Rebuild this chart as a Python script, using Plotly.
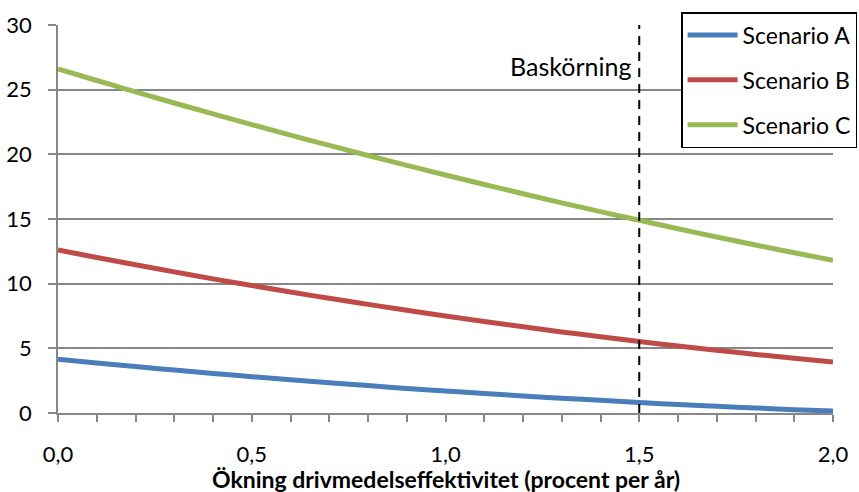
import plotly.graph_objects as go

x_vals = [0.0, 0.1, 0.2, 0.3, 0.4, 0.5, 0.6, 0.7, 0.8, 0.9, 1.0,
          1.1, 1.2, 1.3, 1.4, 1.5, 1.6, 1.7, 1.8, 1.9, 2.0]
scenario_a = [4.15, 3.87, 3.59, 3.32, 3.06, 2.81, 2.57, 2.34, 2.12, 1.90, 1.70,
              1.51, 1.32, 1.14, 0.98, 0.81, 0.66, 0.52, 0.39, 0.26, 0.15]
scenario_b = [12.6, 12.02, 11.46, 10.91, 10.37, 9.86, 9.35, 8.87, 8.40, 7.94, 7.50,
              7.07, 6.67, 6.27, 5.90, 5.53, 5.18, 4.85, 4.53, 4.23, 3.95]
scenario_c = [26.6, 25.71, 24.83, 23.97, 23.13, 22.3, 21.49, 20.69, 19.91, 19.15, 18.4,
              17.67, 16.95, 16.25, 15.57, 14.9, 14.25, 13.61, 12.99, 12.39, 11.8]
series_names = ["Scenario A", "Scenario B", "Scenario C"]
series_colors = ["#4A7EBB", "#BE4B48", "#98B954"]
base_x = 1.5
base_label = "Baskörning"
x_title = "Ökning drivmedelseffektivitet (procent per år)"
x_ticks = [0.0, 0.5, 1.0, 1.5, 2.0]
y_ticks = [0, 5, 10, 15, 20, 25, 30]

FONT = "Lato"
GRID = "#878787"

fig = go.Figure()
for name, ys, col in zip(series_names, [scenario_a, scenario_b, scenario_c], series_colors):
    fig.add_trace(go.Scatter(x=x_vals, y=ys, mode="lines", name=name,
                             legendgroup=name,
                             line=dict(color=col, width=5, shape="spline")))

fig.add_shape(type="line", x0=base_x, x1=base_x, y0=0, y1=30, xref="x", yref="y",
              line=dict(color="black", width=2, dash="9px,7px"), layer="above")
fig.add_annotation(x=base_x, y=26.8, xref="x", yref="y", text=base_label,
                   showarrow=False, xanchor="right", yanchor="middle", xshift=-6,
                   font=dict(family=FONT, size=25, color="black"))
# x-axis title placed as a paper annotation below the tick labels
fig.add_annotation(x=0.5, y=-0.17, xref="paper", yref="paper", text="<b>" + x_title + "</b>",
                   showarrow=False, xanchor="center", yanchor="middle",
                   font=dict(family=FONT, size=23, color="black"))

fig.update_layout(
    width=859, height=492,
    margin=dict(l=58, r=26, t=25, b=79, autoexpand=False),
    paper_bgcolor="white", plot_bgcolor="white",
    separators=", ",
    font=dict(family=FONT, size=22, color="black"),
    showlegend=True,
    legend=dict(x=0.804, y=1.0335, xanchor="left", yanchor="top",
                bgcolor="white", bordercolor="black", borderwidth=1.5,
                font=dict(family=FONT, size=23, color="black"),
                tracegroupgap=12, itemwidth=50),
    xaxis=dict(range=[0, 2], tickvals=x_ticks, tickformat=".1f",
               showgrid=False, showline=True, linecolor=GRID, linewidth=1.5,
               ticks="outside", ticklen=7, tickcolor=GRID, tickwidth=1.5,
               minor=dict(dtick=0.1, ticks="outside", ticklen=7, tickcolor=GRID, tickwidth=1.5),
               ticklabelstandoff=14, automargin=False,
               tickfont=dict(family=FONT, size=22, color="black"),
               zeroline=False),
    yaxis=dict(range=[0, 30], tickvals=y_ticks, automargin=False,
               showgrid=True, gridcolor=GRID, gridwidth=1.5,
               showline=True, linecolor=GRID, linewidth=1.5,
               ticks="outside", ticklen=8, tickcolor=GRID, tickwidth=1.5,
               ticklabelstandoff=12,
               tickfont=dict(family=FONT, size=22, color="black"),
               zeroline=False),
)

fig.write_html("out.html", config={"displayModeBar": False},
               post_script="document.body.style.margin='0px';")
